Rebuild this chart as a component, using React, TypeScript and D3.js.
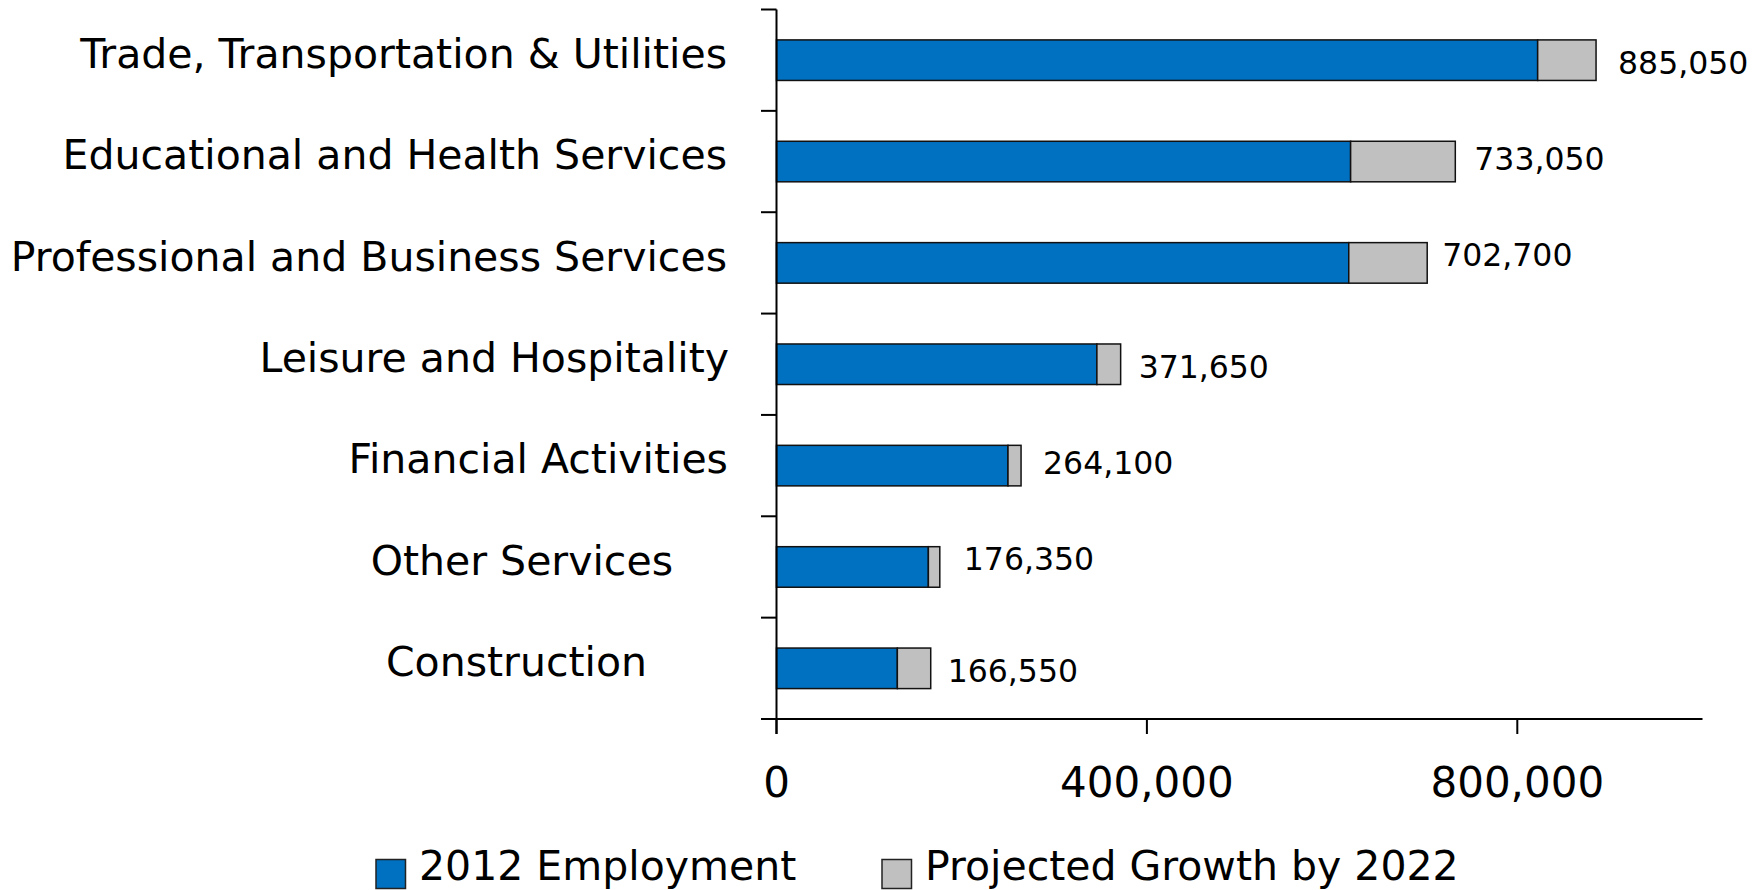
import React from "react";
import * as d3 from "d3";

const categories = [
  "Trade, Transportation & Utilities",
  "Educational and Health Services",
  "Professional and Business Services",
  "Leisure and Hospitality",
  "Financial Activities",
  "Other Services",
  "Construction",
];
const employment2012 = [822000, 620000, 618000, 346000, 250000, 164000, 130500];
const projectedGrowth = [63050, 113050, 84700, 25650, 14100, 12350, 36050];
const xTicks = [0, 400000, 800000];
const seriesNames = ["2012 Employment", "Projected Growth by 2022"];
const seriesColors = ["#0070C0", "#C0C0C0"];

// small manual placement nudges seen in the reference (layout only)
const catLabelShift = [0, 0, 0, 2, 1, -54, -80];
const valueLabelGap = [22, 19, 15, 18, 22, 24, 17];
const valueLabelDy = [2, -3, -8.5, 2, -2.7, -8.4, 2];

const W = 1763;
const H = 890;
const FONT = "'DejaVu Sans', Verdana, sans-serif";

export default function App() {
  const x = d3.scaleLinear().domain([0, 1000000]).range([776.5, 1702.5]);
  const y = d3
    .scaleBand<string>()
    .domain(categories)
    .range([9.5, 719])
    .paddingInner(0.6)
    .paddingOuter(0.3);
  const step = y.step();
  const bw = y.bandwidth();
  const fmt = d3.format(",");
  const axisY = 719;
  const axisX = x(0);
  const boundaries = d3.range(categories.length + 1).map((i) => 9.5 + i * step);

  return (
    <div style={{ position: "absolute", left: 0, top: 0 }}>
      <svg width={W} height={H} style={{ display: "block", background: "#fff" }}>
        {categories.map((c, i) => {
          const y0 = y(c)!;
          const base = employment2012[i];
          const total = base + projectedGrowth[i];
          return (
            <g key={c}>
              <rect
                x={x(0)}
                y={y0}
                width={x(base) - x(0)}
                height={bw}
                fill={seriesColors[0]}
                stroke="#111"
                strokeWidth={1.5}
              />
              <rect
                x={x(base)}
                y={y0}
                width={x(total) - x(base)}
                height={bw}
                fill={seriesColors[1]}
                stroke="#111"
                strokeWidth={1.5}
              />
              <text
                x={x(total) + valueLabelGap[i]}
                y={y0 + bw / 2 + valueLabelDy[i]}
                dy="0.36em"
                fontFamily={FONT}
                fontSize={31.5}
                fill="#000"
              >
                {fmt(total)}
              </text>
              <text
                x={727 + catLabelShift[i]}
                y={y0 + bw / 2 - 7}
                dy="0.36em"
                textAnchor="end"
                fontFamily={FONT}
                fontSize={41}
                fill="#000"
              >
                {c}
              </text>
            </g>
          );
        })}

        <line x1={axisX} x2={axisX} y1={9.5} y2={734} stroke="#000" strokeWidth={2} />
        {boundaries.map((b, i) => (
          <line key={i} x1={axisX - 15.5} x2={axisX} y1={b} y2={b} stroke="#000" strokeWidth={2} />
        ))}

        <line x1={axisX} x2={x(1000000)} y1={axisY} y2={axisY} stroke="#000" strokeWidth={2} />
        {xTicks.map((t) => (
          <g key={t}>
            <line x1={x(t)} x2={x(t)} y1={axisY} y2={axisY + 15} stroke="#000" strokeWidth={2} />
            <text
              x={x(t)}
              y={797}
              textAnchor="middle"
              fontFamily={FONT}
              fontSize={42}
              fill="#000"
            >
              {fmt(t)}
            </text>
          </g>
        ))}

        {seriesNames.map((s, i) => {
          const lx = i === 0 ? 376 : 882;
          return (
            <g key={s}>
              <rect
                x={lx}
                y={859.5}
                width={29.5}
                height={29}
                fill={seriesColors[i]}
                stroke="#222"
                strokeWidth={1.5}
              />
              <text x={lx + 43} y={880} fontFamily={FONT} fontSize={41} fill="#000">
                {s}
              </text>
            </g>
          );
        })}
      </svg>
    </div>
  );
}
